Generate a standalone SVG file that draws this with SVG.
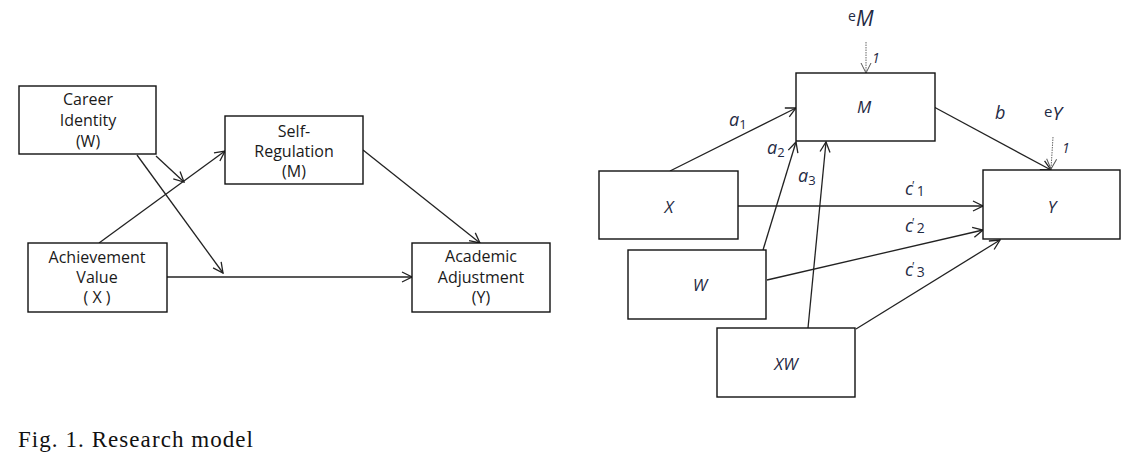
<svg xmlns="http://www.w3.org/2000/svg" width="1142" height="471" viewBox="0 0 1142 471">
<defs>
<marker id="ah" markerUnits="userSpaceOnUse" markerWidth="14" markerHeight="14" viewBox="0 0 14 14" refX="13" refY="7" orient="auto">
<path d="M3,2 L13,7 L3,12" fill="none" stroke="#222" stroke-width="1.3"/>
</marker>
<marker id="ahd" markerUnits="userSpaceOnUse" markerWidth="14" markerHeight="14" viewBox="0 0 14 14" refX="13" refY="7" orient="auto">
<path d="M3,2 L13,7 L3,12" fill="none" stroke="#555" stroke-width="1"/>
</marker>
</defs>
<style>
.box{fill:#fff;stroke:#111;stroke-width:1.4}
.t{font-family:"Open Sans","Noto Sans",sans-serif;font-size:16px;fill:#1a1a1a;text-anchor:middle}
.it{font-family:"Open Sans","Noto Sans",sans-serif;font-size:17px;font-style:italic;fill:#1f2a44;text-anchor:middle}
.lb{font-family:"Open Sans","Noto Sans",sans-serif;font-style:italic;fill:#1f2a44}
.sub{font-style:normal}
.c{fill:none;stroke:#222;stroke-width:1.3}
.d{fill:none;stroke:#666;stroke-width:1;stroke-dasharray:1.5 1}
</style>
<rect width="1142" height="471" fill="#fff"/>
<g id="connectors">
<line class="c" x1="156" y1="156" x2="184" y2="182" marker-end="url(#ah)"/>
<line class="c" x1="137" y1="155" x2="223" y2="273" marker-end="url(#ah)"/>
<line class="c" x1="99" y1="243" x2="225" y2="151" marker-end="url(#ah)"/>
<line class="c" x1="167" y1="277" x2="412" y2="277" marker-end="url(#ah)"/>
<line class="c" x1="363" y1="150" x2="480" y2="243" marker-end="url(#ah)"/>
<line class="c" x1="670" y1="171" x2="796" y2="108" marker-end="url(#ah)"/>
<line class="c" x1="763" y1="250" x2="796" y2="142" marker-end="url(#ah)"/>
<line class="c" x1="808" y1="328" x2="826" y2="142" marker-end="url(#ah)"/>
<line class="c" x1="934" y1="107" x2="1051" y2="170" marker-end="url(#ah)"/>
<line class="c" x1="738" y1="206" x2="983" y2="206" marker-end="url(#ah)"/>
<line class="c" x1="767" y1="280" x2="983" y2="230" marker-end="url(#ah)"/>
<line class="c" x1="856" y1="329" x2="1000" y2="240" marker-end="url(#ah)"/>
<line class="d" x1="866" y1="42" x2="866" y2="73" marker-end="url(#ahd)"/>
<line class="d" x1="1053" y1="137" x2="1051" y2="169" marker-end="url(#ahd)"/>
</g>
<g id="career">
<rect class="box" x="19" y="86" width="137" height="68"/>
<text class="t" x="88" y="105">Career</text>
<text class="t" x="88" y="126">Identity</text>
<text class="t" x="88" y="147">(W)</text>
</g>
<g id="selfreg">
<rect class="box" x="225" y="116" width="138" height="68"/>
<text class="t" x="294" y="137">Self-</text>
<text class="t" x="294" y="157">Regulation</text>
<text class="t" x="294" y="177">(M)</text>
</g>
<g id="achieve">
<rect class="box" x="28" y="243" width="139" height="69"/>
<text class="t" x="97" y="263">Achievement</text>
<text class="t" x="97" y="283">Value</text>
<text class="t" x="97" y="303">( X )</text>
</g>
<g id="academic">
<rect class="box" x="412" y="243" width="138" height="69"/>
<text class="t" x="481" y="262">Academic</text>
<text class="t" x="481" y="283">Adjustment</text>
<text class="t" x="481" y="303">(Y)</text>
</g>
<g id="M">
<rect class="box" x="796" y="73" width="139" height="68"/>
<text class="it" x="864" y="113">M</text>
</g>
<g id="X">
<rect class="box" x="599" y="171" width="139" height="68"/>
<text class="it" x="669" y="213">X</text>
</g>
<g id="W">
<rect class="box" x="628" y="250" width="138" height="69"/>
<text class="it" x="700" y="291">W</text>
</g>
<g id="XW">
<rect class="box" x="717" y="328" width="138" height="69"/>
<text class="it" x="786" y="370">XW</text>
</g>
<g id="Y">
<rect class="box" x="983" y="170" width="137" height="69"/>
<text class="it" x="1052" y="213">Y</text>
</g>
<g id="labels">
<text class="lb" x="729" y="126" font-size="18">a<tspan class="sub" font-size="13" dy="3">1</tspan></text>
<text class="lb" x="767" y="154" font-size="18">a<tspan class="sub" font-size="13" dy="3">2</tspan></text>
<text class="lb" x="798" y="182" font-size="18">a<tspan class="sub" font-size="13" dy="3">3</tspan></text>
<text class="lb" x="995" y="119" font-size="18">b</text>
<text class="lb" x="905" y="195" font-size="18">c<tspan font-size="12" dx="-2" dy="-5">'</tspan><tspan class="sub" font-size="14" dx="3" dy="6">1</tspan></text>
<text class="lb" x="905" y="232" font-size="18">c<tspan font-size="12" dx="-2" dy="-5">'</tspan><tspan class="sub" font-size="14" dx="3" dy="6">2</tspan></text>
<text class="lb" x="905" y="276" font-size="18">c<tspan font-size="12" dx="-2" dy="-5">'</tspan><tspan class="sub" font-size="14" dx="3" dy="6">3</tspan></text>
<text class="lb" x="848" y="26" font-size="21"><tspan class="sub" font-size="14" dy="-5">e</tspan><tspan dy="5">M</tspan></text>
<text class="lb" x="872" y="63" font-size="14">1</text>
<text class="lb" x="1044" y="120" font-size="19"><tspan class="sub" font-size="15" dy="-3">e</tspan><tspan dy="3">Y</tspan></text>
<text class="lb" x="1062" y="153" font-size="14">1</text>
</g>
<text x="18" y="447" font-family="'Liberation Serif',serif" font-size="23" fill="#111" textLength="235" lengthAdjust="spacing">Fig. 1. Research model</text>
</svg>
